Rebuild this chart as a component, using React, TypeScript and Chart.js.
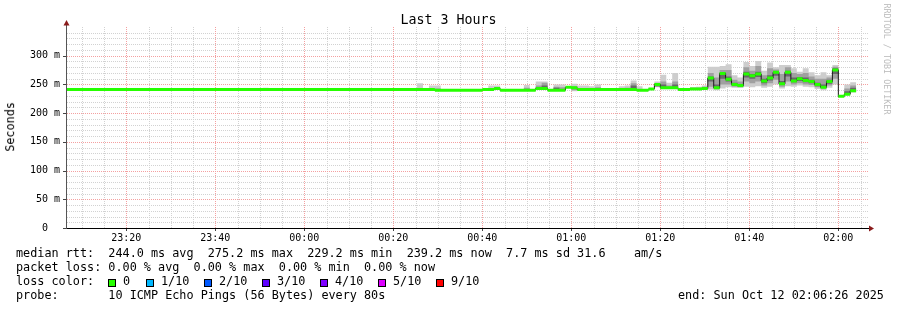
import React, { useEffect, useRef } from 'react';
import { Chart, registerables } from 'chart.js';
Chart.register(...registerables);

// ---- time frame ----
const startClock = '23:06:40';
const spanMinutes = 180;
const stepSeconds = 80;

// ---- median rtt per 80 s step (ms) ----
const medianRtt = [
  241, 241, 241, 241, 241, 241, 241, 241, 241, 241,
  241, 241, 241, 241, 241, 241, 241, 241, 241, 241,
  241, 241, 241, 241, 241, 241, 241, 241, 241, 241,
  241, 241, 241, 241, 241, 241, 241, 241, 241, 241,
  241, 241, 241, 241, 241, 241, 241, 241, 241, 241,
  241, 241, 241, 241, 241, 241, 241, 241, 241, 241,
  241, 241, 240, 240, 240, 240, 240, 240, 240, 240,
  241, 241, 243, 240, 240, 240, 240, 240, 240, 243,
  243, 240, 240, 240, 245, 244, 241, 241, 241, 241,
  241, 241, 241, 241, 241, 241, 240, 240, 242, 250,
  244, 244, 244, 241, 241, 242, 242, 243, 261, 244,
  269, 259, 250, 248, 268, 265, 268, 256, 261, 271,
  251, 271, 256, 260, 257, 255, 250, 245, 255, 275.2,
  229.2, 233, 239.2,
];

// ---- smoke (ping spread) for the steps where it shows ----
const smokeStep = [33, 59, 61, 62, 71, 72, 77, 79, 80, 82, 83, 85, 86, 87, 88, 89, 93, 94, 95, 96, 99, 100, 101, 102, 105, 106, 107, 108, 109, 110, 111, 112, 113, 114, 115, 116, 117, 118, 119, 120, 121, 122, 123, 124, 125, 126, 127, 128, 129, 130, 131, 132];
const smokeMin = [241, 241, 241, 240, 241, 242, 240, 242, 242, 239, 239, 238, 241, 241, 240, 241, 241, 241, 241, 239, 245, 242, 242, 242, 241, 241, 242, 241, 240, 243, 245, 244, 244, 246, 245, 247, 244, 246, 250, 243, 247, 246, 248, 246, 245, 242, 240, 244, 250, 228, 231, 236];
const smokeP25 = [241, 241, 241, 240, 241, 243, 240, 243, 243, 240, 240, 240, 241, 241, 241, 241, 241, 241, 241, 240, 246, 243, 243, 243, 242, 242, 243, 246, 242, 250, 250, 246, 245, 255, 252, 255, 248, 252, 258, 246, 255, 250, 252, 250, 249, 245, 243, 248, 260, 229, 232, 238];
const smokeP40 = [241, 241, 241, 240, 241, 243, 240, 243, 243, 240, 240, 243, 241, 241, 241, 241, 241, 241, 242, 240, 247, 244, 244, 244, 242, 242, 243, 255, 243, 260, 255, 248, 247, 262, 260, 263, 252, 257, 265, 249, 264, 254, 256, 254, 252, 247, 244, 251, 268, 229, 233, 239];
const smokeP60 = [241, 241, 241, 241, 241, 243, 241, 244, 248, 244, 241, 245, 241, 241, 241, 242, 241, 242, 248, 240, 250, 250, 245, 250, 243, 243, 244, 264, 250, 271, 264, 253, 250, 272, 268, 272, 260, 266, 273, 256, 274, 262, 263, 262, 258, 253, 250, 258, 278, 230, 238, 244];
const smokeP75 = [241, 242, 242, 243, 243, 245, 244, 248, 253, 246, 245, 247, 243, 243, 242, 245, 242, 244, 252, 242, 252, 255, 248, 255, 244, 244, 246, 270, 262, 275, 275, 258, 255, 280, 274, 282, 266, 278, 276, 268, 280, 270, 268, 270, 264, 260, 260, 262, 281, 230, 243, 248];
const smokeMax = [244, 252, 248, 248, 248, 248, 249, 255, 255, 250, 250, 251, 248, 248, 247, 250, 247, 248, 257, 247, 255, 267, 253, 270, 245, 246, 248, 281, 281, 282, 285, 266, 262, 289, 282, 291, 274, 288, 280, 284, 284, 278, 272, 278, 271, 266, 271, 266, 284, 231, 250, 254];

// ---- axes ----
const yTickValues = [0, 50, 100, 150, 200, 250, 300];
const yTickLabels = ['0  ', '50 m', '100 m', '150 m', '200 m', '250 m', '300 m'];
const yMax = 350;
const xTickLabels = ['23:20', '23:40', '00:00', '00:20', '00:40', '01:00', '01:20', '01:40', '02:00'];

// ---- legend ----
const lossLabels = ['0', '1/10', '2/10', '3/10', '4/10', '5/10', '9/10'];
const lossColors = ['#26ff00', '#00b8ff', '#0059ff', '#5e00ff', '#7e00ff', '#dd00ff', '#ff0000'];

const clockSec = (c: string) => {
  const p = c.split(':').map(Number);
  return p[0] * 3600 + p[1] * 60 + (p[2] || 0);
};
const clockToMin = (c: string) => (((clockSec(c) - clockSec(startClock)) % 86400 + 86400) % 86400) / 60;

const STEP_MIN = stepSeconds / 60;
const N = medianRtt.length;
const xMajor = xTickLabels.map(clockToMin);
const firstMinor = Math.ceil(clockSec(startClock) / 300) * 300;
const xMinor: number[] = [];
for (let s = firstMinor; ; s += 300) {
  const m = (s - clockSec(startClock)) / 60;
  if (m >= spanMinutes) break;
  xMinor.push(m);
}
const isMajorX = (v: number) => xMajor.some((m) => Math.abs(m - v) < 1e-6);

const fullSeries = (arr: number[]) =>
  medianRtt.map((m, i) => {
    const k = smokeStep.indexOf(i);
    return k >= 0 ? arr[k] : m;
  });
const steppedPts = (vals: number[]) => {
  const pts = vals.map((v, i) => ({ x: i * STEP_MIN, y: v }));
  pts.push({ x: vals.length * STEP_MIN, y: vals[vals.length - 1] });
  return pts;
};
const greenPts: { x: number; y: number | null }[] = [];
{
  let s = 0;
  for (let i = 1; i <= N; i++) {
    if (i === N || medianRtt[i] !== medianRtt[s]) {
      greenPts.push({ x: s * STEP_MIN, y: medianRtt[s] }, { x: i * STEP_MIN, y: medianRtt[s] }, { x: i * STEP_MIN, y: null });
      s = i;
    }
  }
}

const MONO = '"DejaVu Sans Mono", monospace';
const GRID_MINOR = '#d2d2d2';
const GRID_MAJOR = '#f4a0a0';

const band = (data: any, fill: any, color: string, order: number) => ({
  data,
  borderColor: 'rgba(0,0,0,0)',
  borderWidth: 0,
  pointRadius: 0,
  stepped: true,
  fill,
  backgroundColor: color,
  order,
});

// rrdtool-like grid, axes, ticks and arrows
const axisPlugin = {
  id: 'rrdAxes',
  beforeDatasetsDraw(chart: any) {
    const { ctx, chartArea: a, scales } = chart;
    ctx.save();
    ctx.lineWidth = 1;
    ctx.setLineDash([1, 1]);
    const drawV = (v: number, color: string) => {
      const x = Math.round(scales.x.getPixelForValue(v)) + 0.5;
      ctx.strokeStyle = color;
      ctx.beginPath();
      ctx.moveTo(x, a.bottom);
      ctx.lineTo(x, a.top);
      ctx.stroke();
    };
    const drawH = (v: number, color: string) => {
      const y = Math.round(scales.y.getPixelForValue(v)) + 0.5;
      ctx.strokeStyle = color;
      ctx.beginPath();
      ctx.moveTo(a.left, y);
      ctx.lineTo(a.right, y);
      ctx.stroke();
    };
    for (const v of xMinor) if (!isMajorX(v)) drawV(v, GRID_MINOR);
    for (let v = 10; v < yMax; v += 10) if (v % 50 !== 0) drawH(v, GRID_MINOR);
    for (const v of xMajor) drawV(v, GRID_MAJOR);
    for (const v of yTickValues) if (v > 0) drawH(v, GRID_MAJOR);
    ctx.restore();
  },
  afterDatasetsDraw(chart: any) {
    const { ctx, chartArea: a, scales } = chart;
    ctx.save();
    ctx.strokeStyle = '#444';
    ctx.lineWidth = 1;
    for (const v of yTickValues) {
      const y = Math.round(scales.y.getPixelForValue(v)) + 0.5;
      ctx.beginPath();
      ctx.moveTo(a.left - 4, y);
      ctx.lineTo(a.left, y);
      ctx.stroke();
    }
    for (const v of xMajor) {
      const x = Math.round(scales.x.getPixelForValue(v)) + 0.5;
      ctx.beginPath();
      ctx.moveTo(x, a.bottom);
      ctx.lineTo(x, a.bottom + 3);
      ctx.stroke();
    }
    ctx.strokeStyle = '#000';
    ctx.beginPath();
    ctx.moveTo(a.left - 1, a.bottom + 0.5);
    ctx.lineTo(a.right + 2, a.bottom + 0.5);
    ctx.stroke();
    ctx.strokeStyle = '#555';
    ctx.beginPath();
    ctx.moveTo(a.left - 0.5, a.bottom + 1);
    ctx.lineTo(a.left - 0.5, a.top - 2);
    ctx.stroke();
    ctx.fillStyle = '#8a1c1c';
    ctx.beginPath();
    ctx.moveTo(a.left - 0.5, a.top - 7);
    ctx.lineTo(a.left - 3.5, a.top - 1.5);
    ctx.lineTo(a.left + 2.5, a.top - 1.5);
    ctx.closePath();
    ctx.fill();
    ctx.beginPath();
    ctx.moveTo(a.right + 6, a.bottom + 0.5);
    ctx.lineTo(a.right + 1, a.bottom - 2.5);
    ctx.lineTo(a.right + 1, a.bottom + 3.5);
    ctx.closePath();
    ctx.fill();
    ctx.restore();
  },
};

const Txt = ({ x, base, size, text, color = '#000', center = false }: any) => (
  <div
    style={{
      position: 'absolute',
      left: center ? x - 300 : x,
      width: center ? 600 : undefined,
      textAlign: center ? 'center' : 'left',
      top: base - 0.846 * size,
      fontFamily: MONO,
      fontSize: size,
      lineHeight: `${size}px`,
      whiteSpace: 'pre',
      color,
    }}
  >
    {text}
  </div>
);

export default function App() {
  const ref = useRef<HTMLCanvasElement>(null);
  useEffect(() => {
    const chart = new Chart(ref.current as HTMLCanvasElement, {
      type: 'line',
      data: {
        datasets: [
          band(steppedPts(fullSeries(smokeMax)), false, '#cdcdcd', 10) as any,
          band(steppedPts(fullSeries(smokeMin)), 0, '#cdcdcd', 10),
          band(steppedPts(fullSeries(smokeP75)), false, '#a0a0a0', 9),
          band(steppedPts(fullSeries(smokeP25)), 2, '#a0a0a0', 9),
          band(steppedPts(fullSeries(smokeP60)), false, '#686868', 8),
          band(steppedPts(fullSeries(smokeP40)), 4, '#686868', 8),
          {
            data: steppedPts(medianRtt),
            borderColor: '#1a1a1a',
            borderWidth: 1,
            pointRadius: 0,
            stepped: true,
            fill: false,
            order: 2,
          },
          {
            data: greenPts,
            borderColor: '#26ff00',
            borderWidth: 3,
            pointRadius: 0,
            fill: false,
            spanGaps: false,
            order: 1,
          },
        ],
      },
      options: {
        animation: false,
        responsive: false,
        devicePixelRatio: 1,
        layout: { padding: { left: 0, top: 27, right: 29, bottom: 0 } },
        plugins: { legend: { display: false }, tooltip: { enabled: false } },
        events: [],
        scales: {
          x: {
            type: 'linear',
            min: 0,
            max: spanMinutes,
            afterBuildTicks: (s: any) => {
              s.ticks = xMajor.map((v) => ({ value: v }));
            },
            afterFit: (s: any) => {
              s.height = 82;
            },
            ticks: {
              autoSkip: false,
              maxRotation: 0,
              minRotation: 0,
              padding: 4,
              color: '#000',
              font: { family: MONO, size: 10 },
              callback: (v: any) => {
                const k = xMajor.findIndex((m) => Math.abs(m - v) < 1e-6);
                return k >= 0 ? xTickLabels[k] : '';
              },
            },
            grid: { display: false, drawTicks: false },
            border: { display: false },
          },
          y: {
            type: 'linear',
            min: 0,
            max: yMax,
            afterBuildTicks: (s: any) => {
              s.ticks = yTickValues.map((v) => ({ value: v }));
            },
            afterFit: (s: any) => {
              s.width = 67;
            },
            ticks: {
              autoSkip: false,
              padding: 7,
              color: '#000',
              font: { family: MONO, size: 10 },
              callback: (v: any) => {
                const k = yTickValues.indexOf(Math.round(v));
                return k >= 0 ? yTickLabels[k] : '';
              },
            },
            grid: { display: false, drawTicks: false },
            border: { display: false },
          },
        },
      },
      plugins: [axisPlugin],
    } as any);
    return () => chart.destroy();
  }, []);

  const L = 11.8;
  const boxX = [108, 146, 204, 262, 320, 378, 436];
  return (
    <div style={{ position: 'absolute', left: 0, top: 0, width: 897, height: 310, background: '#fff', overflow: 'hidden' }}>
      <canvas ref={ref} width={897} height={310} style={{ position: 'absolute', left: 0, top: 0, width: 897, height: 310 }} />
      <Txt x={448.5} base={24} size={13.3} text="Last 3 Hours" center />
      <div
        style={{
          position: 'absolute',
          left: 11 - 40,
          top: 127 - L / 2,
          width: 80,
          textAlign: 'center',
          fontFamily: MONO,
          fontSize: L,
          lineHeight: `${L}px`,
          transform: 'rotate(-90deg)',
          whiteSpace: 'pre',
          color: '#000',
        }}
      >
        Seconds
      </div>
      <div
        style={{
          position: 'absolute',
          left: 887 - 70,
          top: 59 - 4,
          width: 140,
          textAlign: 'center',
          fontFamily: MONO,
          fontSize: 8.4,
          lineHeight: '8px',
          transform: 'rotate(90deg)',
          whiteSpace: 'pre',
          color: '#bdbdbd',
        }}
      >
        RRDTOOL / TOBI OETIKER
      </div>
      <Txt x={16} base={258} size={L} text="median rtt:  244.0 ms avg  275.2 ms max  229.2 ms min  239.2 ms now  7.7 ms sd 31.6    am/s" />
      <Txt x={16} base={272} size={L} text="packet loss: 0.00 % avg  0.00 % max  0.00 % min  0.00 % now" />
      <Txt x={16} base={286} size={L} text="loss color:" />
      {lossLabels.map((lab, i) => (
        <React.Fragment key={lab}>
          <div
            style={{
              position: 'absolute',
              left: boxX[i],
              top: 278.5,
              width: 6,
              height: 6,
              border: '1px solid #000',
              background: lossColors[i],
            }}
          />
          <Txt x={boxX[i] + 15} base={286} size={L} text={lab} />
        </React.Fragment>
      ))}
      <Txt x={16} base={300} size={L} text="probe:       10 ICMP Echo Pings (56 Bytes) every 80s" />
      <Txt x={678} base={300} size={L} text="end: Sun Oct 12 02:06:26 2025" />
    </div>
  );
}
